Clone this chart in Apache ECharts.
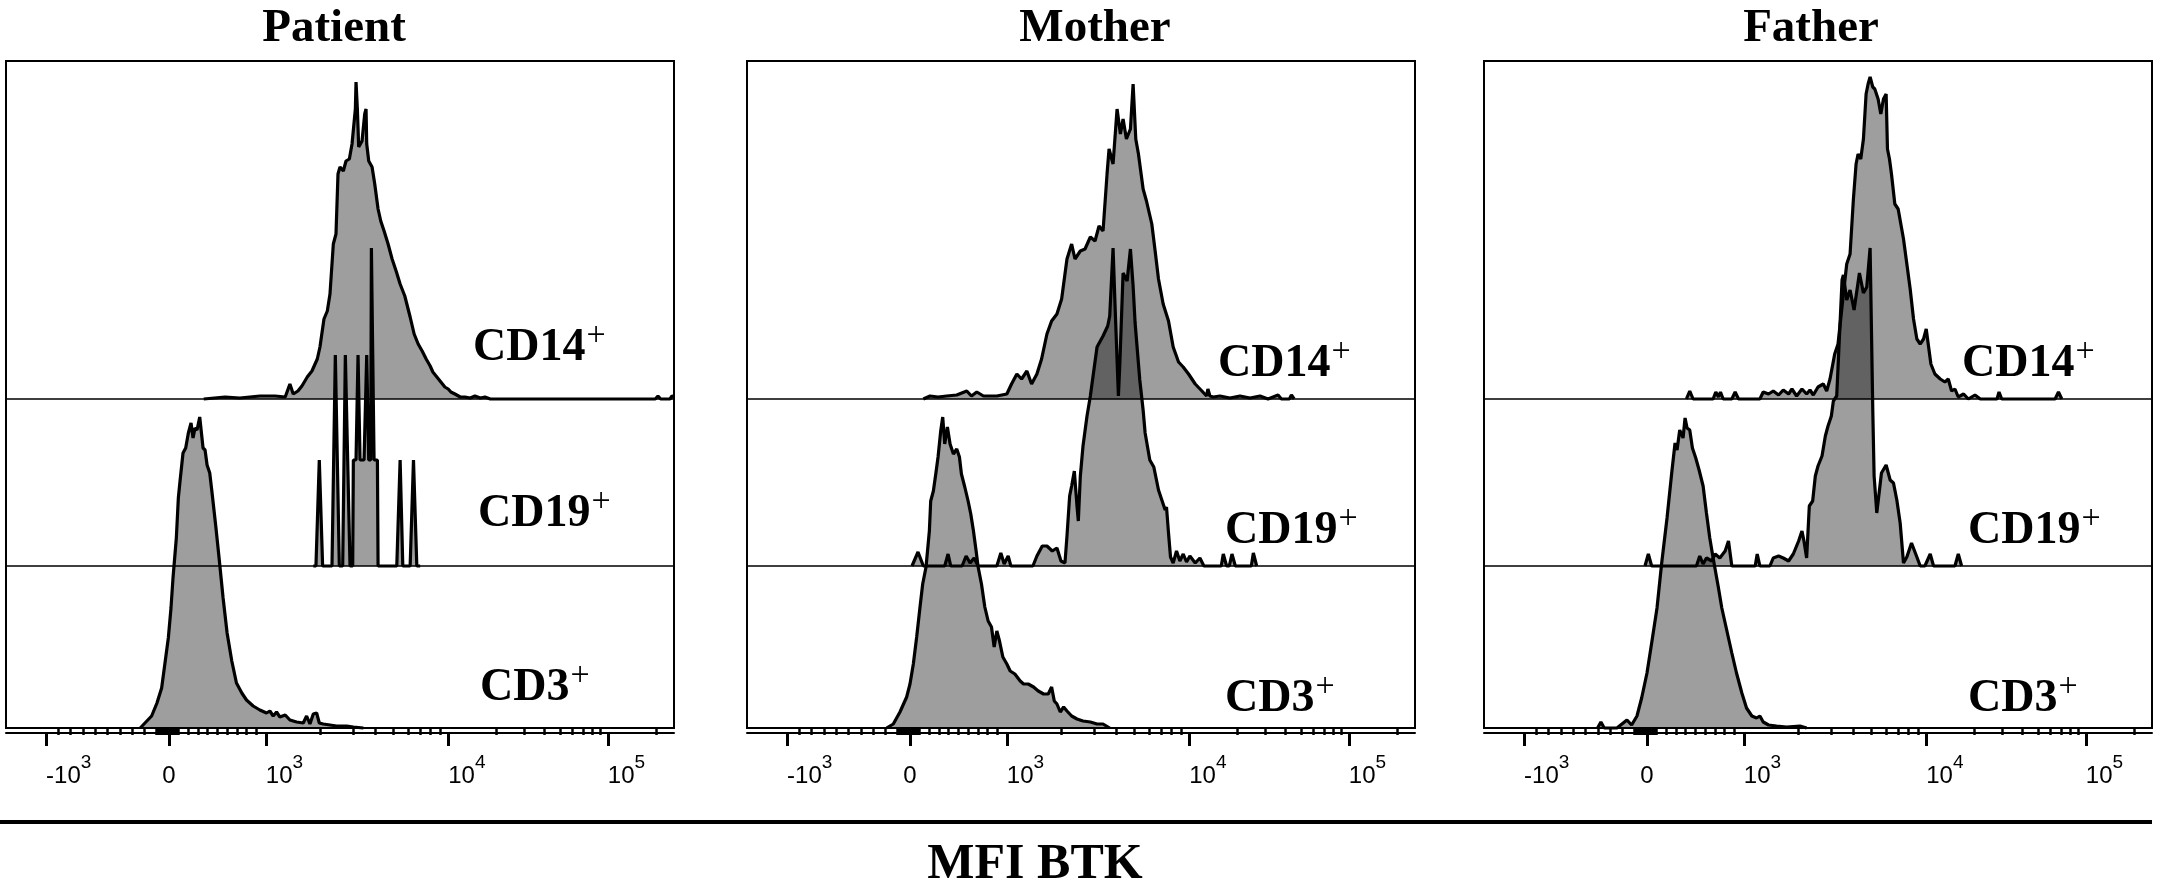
<!DOCTYPE html>
<html>
<head>
<meta charset="utf-8">
<script src="https://cdn.jsdelivr.net/npm/echarts@6/dist/echarts.min.js"></script>
<style>
html,body{margin:0;padding:0;background:#fff}
#main{width:2165px;height:882px}
</style>
</head>
<body>
<div id="main"></div>
<script>
var panels = ['Patient', 'Mother', 'Father'];
var populations = ['CD3', 'CD19', 'CD14'];

// MFI BTK axis: decade ticks (biexponential display)
var majorTickValues = [-1000, 0, 1000, 10000, 100000];
var majorTickBase = ['-10', '0', '10', '10', '10'];
var majorTickExp = ['3', '', '3', '4', '5'];
var minorTickValues = [-900, -800, -700, -600, -500, -400, -300, -200, -100,
  -90, -80, -70, -60, -50, -40, -30, -20, -10,
  10, 20, 30, 40, 50, 60, 70, 80, 90,
  100, 200, 300, 400, 500, 600, 700, 800, 900,
  2000, 3000, 4000, 5000, 6000, 7000, 8000, 9000,
  20000, 30000, 40000, 50000, 60000, 70000, 80000, 90000, 200000];

// histograms, [channel (0-1000 display scale), count]
var patientCD3 = [[201,0],[208,5],[218,12],[226,25],[233,40],[238,65],[243,90],[247,120],[250,150],[255,190],[258,230],[261,250],[265,275],[269,280],[273,295],[277,305],[280,290],[283,300],[286,298],[290,311],[295,280],[298,278],[301,263],[305,255],[309,232],[314,202],[319,170],[325,130],[331,95],[338,67],[345,45],[353,35],[360,28],[370,22],[380,18],[390,15],[395,17],[400,12],[405,16],[410,11],[418,13],[425,8],[435,6],[445,5],[450,12],[455,4],[460,14],[465,15],[469,5],[475,4],[485,3],[495,2],[510,2],[520,1],[535,0]];
var patientCD19 = [[460,0],[464,0],[469,106],[474,0],[488,0],[493,211],[499,0],[504,0],[508,211],[515,0],[519,0],[520,106],[524,106],[527,211],[530,106],[536,106],[540,211],[543,106],[546,106],[547,318],[549,211],[551,106],[556,106],[557,0],[585,0],[590,106],[594,0],[605,0],[610,106],[615,0],[620,0]];
var patientCD14 = [[296,0],[328,2],[350,1],[380,3],[403,3],[418,2],[425,15],[430,5],[437,8],[443,13],[451,22],[458,28],[466,40],[470,52],[476,80],[481,88],[485,105],[490,155],[494,165],[497,225],[500,232],[505,228],[509,238],[514,240],[518,255],[523,290],[524,317],[526,290],[528,252],[533,258],[537,285],[539,290],[540,255],[543,238],[548,232],[552,215],[557,190],[561,178],[566,168],[572,155],[578,140],[584,128],[590,115],[597,103],[605,82],[611,65],[617,55],[623,48],[629,40],[635,33],[639,27],[645,22],[651,17],[657,12],[662,10],[666,7],[672,5],[680,2],[687,2],[695,1],[702,3],[710,1],[717,2],[725,0],[972,0],[976,3],[980,0],[994,0],[997,3],[1000,2]];

var motherCD3 = [[209,0],[219,4],[229,16],[239,31],[244,44],[249,64],[254,91],[259,121],[263,144],[268,161],[273,197],[275,227],[279,237],[283,256],[286,271],[290,297],[293,311],[296,284],[300,301],[304,284],[309,274],[314,279],[318,271],[321,254],[326,241],[331,227],[335,214],[339,197],[343,177],[346,161],[351,144],[356,121],[361,107],[366,101],[370,81],[374,97],[378,87],[383,71],[389,64],[394,57],[401,54],[409,47],[414,44],[421,44],[429,41],[436,37],[444,34],[451,34],[456,41],[460,27],[464,24],[469,16],[474,21],[479,17],[486,12],[494,9],[503,7],[514,6],[524,4],[533,4],[543,0]];
var motherCD19 = [[247,0],[256,14],[264,0],[296,0],[301,12],[305,0],[322,0],[328,10],[334,3],[340,8],[346,0],[374,0],[380,13],[385,2],[391,10],[395,0],[428,0],[434,10],[442,20],[449,20],[457,15],[464,18],[470,5],[476,3],[479,30],[483,70],[486,80],[490,95],[494,60],[496,45],[499,90],[503,120],[509,150],[514,170],[524,219],[533,230],[540,240],[543,250],[548,318],[551,260],[556,170],[558,200],[563,293],[569,285],[574,317],[578,280],[581,243],[588,186],[593,156],[596,133],[603,106],[609,99],[616,76],[621,66],[626,56],[628,59],[631,33],[634,9],[638,3],[643,15],[648,5],[653,12],[658,4],[663,10],[671,3],[678,8],[684,0],[710,0],[713,12],[718,0],[722,0],[726,12],[731,0],[755,0],[758,13],[763,0]];
var motherCD14 = [[264,0],[274,3],[286,2],[299,3],[314,4],[329,8],[336,3],[344,7],[354,3],[374,3],[389,5],[396,15],[404,25],[411,20],[419,28],[426,15],[434,25],[441,40],[449,65],[456,78],[464,85],[471,100],[479,140],[486,155],[491,140],[499,148],[506,150],[514,162],[521,158],[527,173],[533,168],[539,225],[542,250],[548,235],[554,290],[559,265],[563,280],[568,260],[574,270],[578,315],[582,260],[586,245],[593,210],[598,198],[606,175],[611,148],[616,120],[623,95],[631,78],[638,52],[646,37],[653,32],[661,25],[671,15],[681,8],[688,3],[690,10],[693,3],[698,2],[708,3],[723,1],[738,3],[753,1],[768,3],[780,0],[795,4],[800,0],[812,0],[815,4],[819,0]];

var fatherCD3 = [[170,0],[175,6],[180,0],[199,0],[214,8],[221,3],[229,12],[236,30],[244,55],[251,85],[259,120],[266,165],[274,210],[281,255],[286,285],[289,278],[293,298],[298,290],[301,310],[304,300],[308,298],[312,280],[317,270],[322,258],[328,242],[333,215],[338,190],[343,170],[351,140],[356,120],[361,105],[366,90],[371,75],[378,55],[386,35],[393,20],[401,12],[408,10],[413,12],[418,6],[426,3],[438,2],[453,1],[473,2],[483,0]];
var fatherCD19 = [[241,0],[246,12],[251,0],[318,0],[323,10],[328,2],[333,8],[341,5],[346,12],[353,8],[361,15],[366,25],[371,0],[406,0],[409,12],[413,0],[428,0],[433,8],[441,10],[448,8],[456,5],[463,12],[471,25],[476,35],[479,25],[483,8],[487,60],[492,65],[496,90],[500,100],[506,110],[511,130],[515,140],[520,150],[523,165],[528,170],[536,286],[538,291],[543,266],[548,276],[554,256],[562,293],[568,273],[573,279],[578,318],[582,156],[584,90],[588,53],[595,93],[602,101],[608,86],[613,83],[618,66],[623,43],[628,3],[633,9],[640,23],[648,9],[653,0],[660,0],[668,12],[673,0],[705,0],[710,12],[715,0]];
var fatherCD14 = [[303,0],[308,8],[313,0],[343,0],[347,7],[351,2],[354,7],[358,0],[371,0],[376,7],[381,0],[413,0],[418,7],[426,5],[433,8],[441,4],[448,9],[456,5],[461,10],[468,3],[476,10],[483,5],[488,9],[493,4],[500,12],[508,15],[513,8],[518,20],[525,45],[530,55],[538,105],[543,135],[548,145],[553,200],[557,235],[560,245],[564,240],[568,260],[572,305],[575,315],[578,322],[582,312],[585,310],[590,300],[594,285],[598,300],[602,305],[604,250],[607,240],[610,225],[615,195],[620,190],[624,175],[628,160],[633,135],[638,110],[643,80],[648,60],[653,55],[658,60],[662,70],[665,55],[669,35],[675,25],[683,20],[690,17],[695,20],[700,8],[705,10],[710,2],[718,5],[725,0],[735,4],[743,0],[768,0],[771,7],[775,0],[855,0],[860,7],[865,0]];

var histograms = {
  Patient: {CD3: patientCD3, CD19: patientCD19, CD14: patientCD14},
  Mother: {CD3: motherCD3, CD19: motherCD19, CD14: motherCD14},
  Father: {CD3: fatherCD3, CD19: fatherCD19, CD14: fatherCD14}
};

// display scale: value -> channel
function toChannel(v) {
  if (v < 0) return 244 + v / 1000 * 184;
  if (v <= 1000) return 244 + v / 1000 * 145;
  if (v <= 10000) return 389 + (Math.log10(v) - 3) * 273;
  return 662 + (Math.log10(v) - 4) * 239;
}

// layout
var boxLeft = [6, 747, 1484];
var boxTop = 61, boxWidth = 668;
var baseY = {CD3: 728, CD19: 566, CD14: 399};
var titleX = [334, 1095, 1811];
var labelX = {CD3: [480, 1225, 1968], CD19: [478, 1225, 1968], CD14: [473, 1218, 1962]};
var labelBase = {CD3: [695, 706, 706], CD19: [521, 538, 538], CD14: [355, 371, 371]};

var serif = '"Liberation Serif", "Times New Roman", serif';
var sans = '"Liberation Sans", Arial, sans-serif';
// superscript decades: tall base line box so the exponent sits above the digits
var tickRich = {
  n: {fontSize: 24, lineHeight: 46, fontFamily: sans, color: '#000', verticalAlign: 'middle'},
  s: {fontSize: 19, lineHeight: 19, fontFamily: sans, color: '#000', verticalAlign: 'top'}
};

var grid = [], xAxis = [], yAxis = [], series = [], graphic = [];

var majorLabelVals = [], i;
for (i = 0; i < majorTickValues.length; i++) {
  if (majorTickValues[i] !== 0) majorLabelVals.push(toChannel(majorTickValues[i]));
}

panels.forEach(function (name, p) {
  populations.forEach(function (pop) {
    var gi = grid.length;
    grid.push({
      left: boxLeft[p], top: boxTop, width: boxWidth, height: baseY[pop] - boxTop,
      show: pop === 'CD3', borderColor: '#000', borderWidth: 2, backgroundColor: 'transparent'
    });
    yAxis.push({gridIndex: gi, type: 'value', min: 0, max: baseY[pop] - boxTop, show: false});
    var xi = xAxis.length;
    if (pop === 'CD3') {
      xAxis.push({
        gridIndex: gi, type: 'value', min: 0, max: 1000, position: 'bottom', offset: 5,
        axisLine: {show: true, onZero: false, lineStyle: {color: '#000', width: 2}},
        axisTick: {show: true, length: 13, customValues: majorTickValues.map(toChannel),
          lineStyle: {color: '#000', width: 3}},
        axisLabel: {show: true, customValues: majorLabelVals, align: 'left', margin: 20,
          rich: tickRich,
          formatter: function (v) {
            var best = 0, d = 1e9;
            for (var k = 0; k < majorTickValues.length; k++) {
              var dd = Math.abs(toChannel(majorTickValues[k]) - v);
              if (dd < d) { d = dd; best = k; }
            }
            return '{n|' + majorTickBase[best] + '}{s|' + majorTickExp[best] + '}';
          }},
        splitLine: {show: false}
      });
      xAxis.push({
        gridIndex: gi, type: 'value', min: 0, max: 1000, position: 'bottom', offset: 5,
        axisLine: {show: false},
        axisTick: {show: true, length: 7, customValues: minorTickValues.map(toChannel),
          lineStyle: {color: '#000', width: 2.5}},
        axisLabel: {show: true, customValues: [toChannel(0)], align: 'center', margin: 20,
          rich: tickRich,
          formatter: function () { return '{n|0}'; }},
        splitLine: {show: false}
      });
    } else {
      xAxis.push({
        gridIndex: gi, type: 'value', min: 0, max: 1000,
        axisLine: {show: true, onZero: false, lineStyle: {color: '#000', width: 1.5}},
        axisTick: {show: false}, axisLabel: {show: false}, splitLine: {show: false}
      });
    }
    series.push({
      name: name + ' ' + pop, type: 'line', xAxisIndex: xi, yAxisIndex: gi,
      data: histograms[name][pop], symbol: 'none', smooth: false, clip: false,
      lineStyle: {color: '#000', width: 3.2},
      areaStyle: {color: 'rgba(0,0,0,0.38)', opacity: 1}
    });

    // population label, e.g. CD14+
    var fs = 46;
    graphic.push({
      type: 'text', x: labelX[pop][p], y: labelBase[pop][p] - fs * 0.805 + 7,
      style: {
        text: '{b|' + pop + '}{s|+}',
        align: 'left', verticalAlign: 'top', textAlign: 'left', textVerticalAlign: 'top',
        rich: {
          b: {fontSize: fs, lineHeight: fs, fontWeight: 'bold', fontFamily: serif, fill: '#000', verticalAlign: 'top'},
          s: {fontSize: 34, lineHeight: 34, fontWeight: 'normal', fontFamily: serif, fill: '#000', verticalAlign: 'top', padding: [-6, 0, 0, 1]}
        }
      }
    });
  });

  graphic.push({
    type: 'text', x: titleX[p], y: 36 - 47 * 0.805 + 7,
    style: {
      text: name, font: 'bold 47px ' + serif, fill: '#000',
      align: 'center', verticalAlign: 'top', textAlign: 'center', textVerticalAlign: 'top', lineHeight: 47
    }
  });
});

graphic.push({
  type: 'line', shape: {x1: 0, y1: 822, x2: 2152, y2: 822},
  style: {stroke: '#000', lineWidth: 4}
});
graphic.push({
  type: 'text', x: 1035, y: 875 - 50 * 0.805 + 5,
  style: {
    text: 'MFI BTK', font: 'bold 50px ' + serif, fill: '#000',
    align: 'center', verticalAlign: 'top', textAlign: 'center', textVerticalAlign: 'top', lineHeight: 50
  }
});

var chart = echarts.init(document.getElementById('main'));
chart.setOption({
  backgroundColor: '#fff',
  animation: false,
  grid: grid,
  xAxis: xAxis,
  yAxis: yAxis,
  series: series,
  graphic: graphic
});
</script>
</body>
</html>
